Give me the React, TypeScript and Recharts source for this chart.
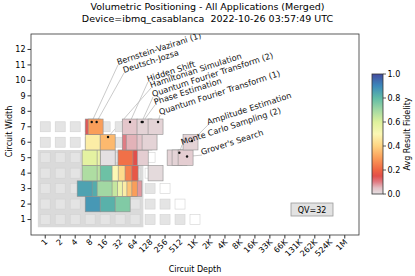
import React from "react";
import { ScatterChart, Scatter, XAxis, YAxis, ReferenceArea, ReferenceLine } from "recharts";

const FONT = "'DejaVu Sans', sans-serif";

// axis ticks
const depthTicks = [1, 2, 4, 8, 16, 32, 64, 128, 256, 512, 1024, 2048, 4096, 8192, 16384, 32768, 65536, 131072, 262144, 524288, 1048576];
const depthTickLabels = ["1", "2", "4", "8", "16", "32", "64", "128", "256", "512", "1K", "2K", "4K", "8K", "16K", "33K", "66K", "131K", "262K", "524K", "1M"];
const widthTicks = [1, 2, 3, 4, 5, 6, 7, 8, 9, 10, 11, 12];
const fidelityTicks = [0, 0.2, 0.4, 0.6, 0.8, 1.0];

// background grid: deepest gray square for each width (white outline one step deeper)
const bgWidths = [1, 2, 3, 4, 5, 6, 7];
const bgMaxDepth = [512, 256, 128, 64, 64, 64, 64];

// QV=32 region
const qvDepthRange = [0.71, 94];
const qvWidthRange = [0.5, 5.5];

// result cells per circuit width, in drawing order (avg depth, avg fidelity)
const w2Depth = [9, 18, 36];
const w2Fid = [0.87, 0.82, 0.75];
const w3Depth = [62, 50, 39, 31, 25, 20, 9, 6.2, 15.6];
const w3Fid = [0.08, 0.3, 0.37, 0.47, 0.55, 0.64, 0.83, 0.85, 0.7];
const w4Depth = [165, 52, 39, 28.4, 20.7, 15.6, 9, 7.8];
const w4Fid = [0.01, 0.17, 0.25, 0.42, 0.5, 0.78, 0.66, 0.68];
const w5Depth = [83, 50, 41, 18, 9, 7.8, 399, 501, 662];
const w5Fid = [0.03, 0.15, 0.22, 0.0, 0.55, 0.58, 0.02, 0.02, 0.03];
const w6Depth = [50, 60, 99, 125, 9, 18, 832];
const w6Fid = [0.1, 0.06, 0.04, 0.02, 0.47, 0.35, 0.02];
const w7Depth = [50, 99, 165, 9, 10.3];
const w7Fid = [0.04, 0.02, 0.02, 0.14, 0.3];

// app labels: marker point and where the text starts
const appNames = [
  "Bernstein-Vazirani (1)", "Deutsch-Jozsa", "Hidden Shift", "Hamiltonian Simulation",
  "Quantum Fourier Transform (2)", "Phase Estimation", "Quantum Fourier Transform (1)",
  "Amplitude Estimation", "Monte Carlo Sampling (2)", "Grover's Search",
];
const appDepth = [8.6, 10.8, 50.6, 18.3, 87, 91, 185, 891, 496, 709];
const appWidth = [7.31, 7.31, 7.31, 6.34, 7.31, 7.31, 7.31, 6.08, 5.32, 5.08];
const appTextDepth = [29, 38.3, 116, 134, 147, 161, 203, 1870, 561, 1418];
const appTextWidth = [11.0, 10.48, 9.9, 9.51, 8.93, 8.41, 7.76, 7.12, 5.82, 5.17];

// colour map (fidelity -> colour)
const cmapPos = [0, 0.05, 0.1, 0.15, 0.2, 0.3, 0.4, 0.5, 0.6, 0.7, 0.8, 0.9, 1.0];
const cmapCol = ["#e4e0e2", "#e4c0c5", "#e07c84", "#e24f4a", "#ef6543", "#fa9e5a", "#fed482", "#fbf7b5", "#def19c", "#a2d8a3", "#60bba6", "#3c89bb", "#434b9f"];

const hex = (c: string) => [1, 3, 5].map((i) => parseInt(c.slice(i, i + 2), 16));
const fidColor = (f: number) => {
  const v = Math.max(0, Math.min(1, f));
  let i = 0;
  while (i < cmapPos.length - 2 && v > cmapPos[i + 1]) i++;
  const t = (v - cmapPos[i]) / (cmapPos[i + 1] - cmapPos[i]);
  const a = hex(cmapCol[i]);
  const b = hex(cmapCol[i + 1]);
  const m = a.map((x, k) => Math.round(x + (b[k] - x) * t));
  return `rgb(${m[0]},${m[1]},${m[2]})`;
};

// chart geometry
const W = 415;
const H = 276;
const PLOT_L = 31;
const PLOT_T = 34;
const PLOT_R = 359;
const PLOT_B = 235;
const X_MIN = Math.pow(2, -0.95);
const X_MAX = Math.pow(2, 20.95);
const Y_MAX = 13;
const PX_OCT = (PLOT_R - PLOT_L) / (Math.log2(X_MAX) - Math.log2(X_MIN));
const PX_W = (PLOT_B - PLOT_T) / Y_MAX;

const bgGray: { x: number; y: number }[] = [];
const bgWhite: { x: number; y: number }[] = [];
bgWidths.forEach((w, i) => {
  for (let d = 1; d <= bgMaxDepth[i]; d *= 2) bgGray.push({ x: d, y: w });
  bgWhite.push({ x: bgMaxDepth[i] * 2, y: w });
});

const rows: [number, number[], number[]][] = [
  [2, w2Depth, w2Fid],
  [3, w3Depth, w3Fid],
  [4, w4Depth, w4Fid],
  [5, w5Depth, w5Fid],
  [6, w6Depth, w6Fid],
  [7, w7Depth, w7Fid],
];
const cells = rows.flatMap(([w, ds, fs]) => ds.map((d, i) => ({ x: d, y: w, f: fs[i] })));
const dots = appNames.map((n, i) => ({ x: appDepth[i], y: appWidth[i], name: n }));
const labels = appNames.map((n, i) => ({ x: appTextDepth[i], y: appTextWidth[i], name: n }));

const Square = (fill: string) => (p: any) => (
  <rect x={p.cx - 5} y={p.cy - 5} width={10} height={10} fill={fill} stroke="#d2d2d2" strokeWidth={0.6} />
);

const Cell = (p: any) => (
  <rect
    x={p.cx - PX_OCT / 2}
    y={p.cy - PX_W / 2}
    width={PX_OCT}
    height={PX_W}
    fill={fidColor(p.payload.f)}
    stroke="#8f8f8f"
    strokeWidth={0.6}
  />
);

const Dot = (p: any) => <circle cx={p.cx} cy={p.cy} r={1.2} fill="#111" />;

const LabelText = (p: any) => (
  <text
    x={p.cx}
    y={p.cy}
    fontSize={8.2}
    fontFamily={FONT}
    fill="#111"
    transform={`rotate(-18 ${p.cx} ${p.cy})`}
  >
    {p.payload.name}
  </text>
);

const DepthTick = (p: any) => {
  const i = depthTicks.indexOf(p.payload.value);
  const ax = p.x + 3;
  const ay = p.y + 4;
  return (
    <text x={ax} y={ay} textAnchor="end" fontSize={8} fontFamily={FONT} fill="#000" transform={`rotate(-45 ${ax} ${ay})`}>
      {depthTickLabels[i]}
    </text>
  );
};

const CB_X = 372;
const CB_T = 74;
const CB_B = 194;
const CB_W = 11;

export default function App() {
  return (
    <div style={{ position: "absolute", left: 0, top: 0, width: W, height: H, background: "#fff" }}>
      <ScatterChart width={W} height={H} margin={{ top: PLOT_T, right: W - PLOT_R, bottom: 0, left: 0 }}>
        <XAxis
          type="number"
          dataKey="x"
          scale="log"
          domain={[X_MIN, X_MAX]}
          allowDataOverflow
          ticks={depthTicks}
          interval={0}
          tick={<DepthTick />}
          tickSize={3.5}
          tickMargin={0}
          axisLine={false}
          stroke="#333"
          height={H - PLOT_B}
        />
        <YAxis
          type="number"
          dataKey="y"
          domain={[0, Y_MAX]}
          allowDataOverflow
          ticks={widthTicks}
          interval={0}
          tick={{ fontSize: 8, fill: "#000", fontFamily: FONT }}
          tickSize={3.5}
          tickMargin={2}
          axisLine={false}
          stroke="#333"
          width={PLOT_L}
        />
        <ReferenceArea
          x1={qvDepthRange[0]}
          x2={qvDepthRange[1]}
          y1={qvWidthRange[0]}
          y2={qvWidthRange[1]}
          fill="#dadada"
          fillOpacity={1}
          stroke="none"
        />
        <Scatter data={bgGray} shape={Square("#e4e4e4")} isAnimationActive={false} />
        <Scatter data={bgWhite} shape={Square("#ffffff")} isAnimationActive={false} />
        <Scatter data={cells} shape={Cell} isAnimationActive={false} />
        {appNames.map((n, i) => (
          <ReferenceLine
            key={n}
            segment={[
              { x: appDepth[i], y: appWidth[i] },
              { x: appTextDepth[i], y: appTextWidth[i] },
            ]}
            stroke="#bdbdbd"
            strokeWidth={0.8}
            ifOverflow="visible"
          />
        ))}
        <Scatter data={dots} shape={Dot} isAnimationActive={false} />
        <Scatter data={labels} shape={LabelText} isAnimationActive={false} />
      </ScatterChart>

      <svg width={W} height={H} style={{ position: "absolute", left: 0, top: 0, pointerEvents: "none" }}>
        <defs>
          <linearGradient id="fidGrad" x1="0" y1="1" x2="0" y2="0">
            {cmapPos.map((p, i) => (
              <stop key={p} offset={p} stopColor={cmapCol[i]} />
            ))}
          </linearGradient>
        </defs>
        <g fontFamily={FONT} fill="#000">
          <text x={207.5} y={9.5} textAnchor="middle" fontSize={9.5}>
            Volumetric Positioning - All Applications (Merged)
          </text>
          <text x={207.5} y={21.5} textAnchor="middle" fontSize={9.5} style={{ whiteSpace: "pre" }}>
            {"Device=ibmq_casablanca  2022-10-26 03:57:49 UTC"}
          </text>
          <text x={195} y={272} textAnchor="middle" fontSize={8}>
            Circuit Depth
          </text>
          <text x={11.5} y={131.5} textAnchor="middle" fontSize={8} transform="rotate(-90 11.5 131.5)">
            Circuit Width
          </text>
        </g>
        <rect x={PLOT_L} y={PLOT_T} width={PLOT_R - PLOT_L} height={PLOT_B - PLOT_T} fill="none" stroke="#333" strokeWidth={0.8} />

        <rect x={291} y={203} width={42} height={13} fill="#e2e2e2" stroke="#999" strokeWidth={0.8} />
        <text x={312} y={212.8} textAnchor="middle" fontSize={8} fontFamily={FONT}>
          QV=32
        </text>

        <rect x={CB_X} y={CB_T} width={CB_W} height={CB_B - CB_T} fill="url(#fidGrad)" stroke="#333" strokeWidth={0.8} />
        {fidelityTicks.map((t) => {
          const y = CB_B - t * (CB_B - CB_T);
          return (
            <g key={t}>
              <line x1={CB_X + CB_W} x2={CB_X + CB_W + 3} y1={y} y2={y} stroke="#333" strokeWidth={0.8} />
              <text x={CB_X + CB_W + 4.5} y={y} dy="0.35em" fontSize={8} fontFamily={FONT}>
                {t.toFixed(1)}
              </text>
            </g>
          );
        })}
        <text x={410} y={134} textAnchor="middle" fontSize={8} fontFamily={FONT} transform="rotate(-90 410 134)">
          Avg Result Fidelity
        </text>
      </svg>
    </div>
  );
}
